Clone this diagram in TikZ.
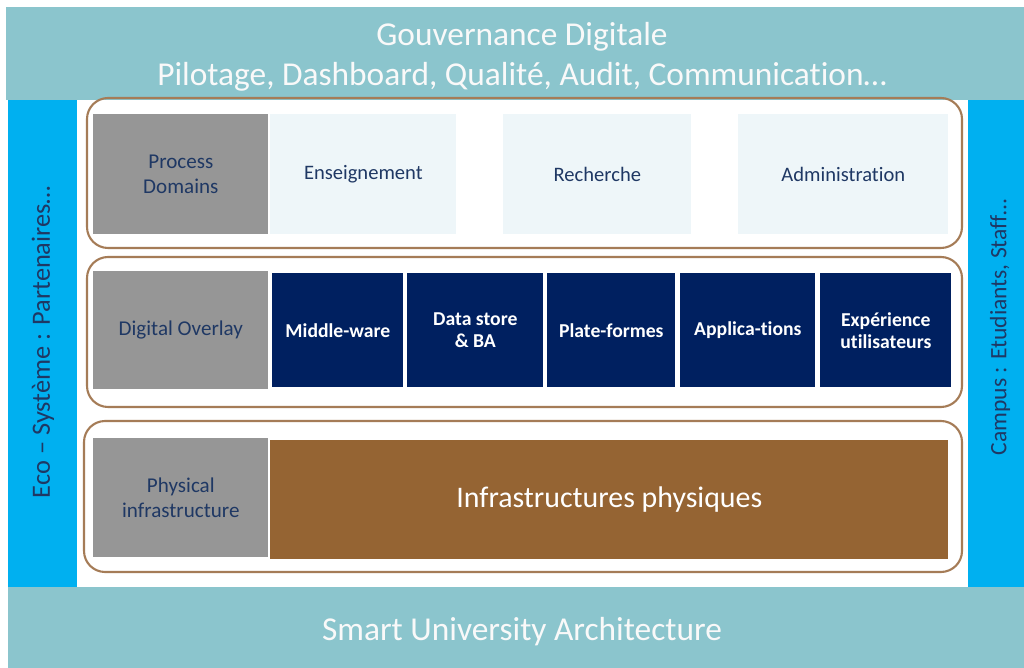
\documentclass[tikz,border=0pt]{standalone}
\usepackage{fontspec}
\setmainfont{Carlito}[Ligatures=NoCommon]
\usepackage{tikz}
\usepackage{xcolor}
\definecolor{band_teal}{HTML}{8BC5CD}
\definecolor{side_blue}{HTML}{00B0F0}
\definecolor{domain_gray}{HTML}{969696}
\definecolor{pale_blue}{HTML}{EEF6F9}
\definecolor{overlay_navy}{HTML}{002060}
\definecolor{infra_brown}{HTML}{956433}
\definecolor{frame_brown}{HTML}{A57C57}
\definecolor{text_navy}{HTML}{1F3864}

\begin{document}
\begin{tikzpicture}[x=0.02cm,y=-0.02cm,
    layerframe/.style={draw=frame_brown, line width=1.2pt, rounded corners=12pt},
    graybox/.style={anchor=north west, inner sep=0pt, minimum width=3.5cm, fill=domain_gray, text=text_navy, align=center, font=\fontsize{12}{14.2}\selectfont},
    domainbox/.style={anchor=north west, inner sep=0pt, minimum height=2.4cm, fill=pale_blue, text=text_navy, font=\fontsize{11.7}{14}\selectfont},
    brick/.style={anchor=north west, inner sep=0pt, minimum height=2.28cm, fill=overlay_navy, text=white, align=center, font=\fontsize{11.2}{12.5}\selectfont\bfseries},
    sidetext/.style={rotate=90, text=text_navy}]
        \useasboundingbox (0,0) rectangle (1024,668);
        \fill[white] (0,0) rectangle (1024,668);
        % Bandeaux
        \fill[band_teal] (6,7) rectangle (1024,100);
        \fill[band_teal] (8,587) rectangle (1024,668);
        \fill[side_blue] (8,100) rectangle (77,587);
        \fill[side_blue] (968,100) rectangle (1024,587);
        \node[text=white!95!gray, align=center, font=\fontsize{19}{22.5}\selectfont] (gov) at (522,57) {Gouvernance Digitale\\Pilotage, Dashboard, Qualité, Audit, Communication\dots};
        \node[text=white!95!gray, font=\fontsize{19}{22}\selectfont] (sua) at (522,632) {Smart University Architecture};
        \node[sidetext, font=\fontsize{15}{17}\selectfont] (eco) at (43,342) {Eco -- Système : Partenaires\dots};
        \node[sidetext, font=\fontsize{13.4}{16}\selectfont] (campus) at (1000,327) {Campus : Etudiants, Staff\dots};
        % Couches
        \draw[layerframe] (87,98) rectangle (962,248);
        \draw[layerframe] (87,257) rectangle (962,407);
        \draw[layerframe] (84,421) rectangle (962,572);
        % Process Domains
        \node[graybox, minimum height=2.4cm] (pd) at (93,114) {Process\\Domains};
        \node[domainbox, minimum width=3.72cm] (ens) at (270,114) {Enseignement};
        \node[domainbox, minimum width=3.76cm] (rech) at (503,114) {Recherche};
        \node[domainbox, minimum width=4.2cm] (admin) at (738,114) {Administration};
        % Digital Overlay
        \node[graybox, minimum height=2.36cm] (do) at (93,271) {Digital Overlay};
        \node[brick, minimum width=2.62cm] (mw) at (272,273) {Middle-ware};
        \node[brick, minimum width=2.72cm] (ds) at (407,273) {Data store\\\& BA};
        \node[brick, minimum width=2.56cm] (pf) at (547,273) {Plate-formes};
        \node[brick, minimum width=2.7cm] (app) at (680,273) {Applica-tions};
        \node[brick, minimum width=2.62cm] (ux) at (820,273) {Expérience\\utilisateurs};
        % Physical infrastructure
        \node[graybox, minimum height=2.38cm] (pi) at (93,438) {Physical\\infrastructure};
        \node[anchor=north west, inner sep=0pt, minimum width=13.56cm, minimum height=2.38cm, fill=infra_brown, text=white, font=\fontsize{17}{20}\selectfont] (infra) at (270,440) {Infrastructures physiques};
    \end{tikzpicture}
\end{document}
